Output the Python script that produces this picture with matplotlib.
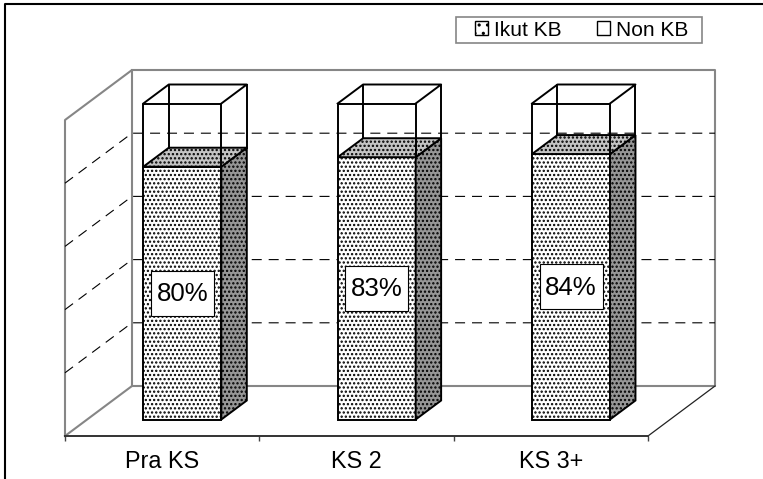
import matplotlib
matplotlib.use('Agg')
import matplotlib.pyplot as plt
from matplotlib.lines import Line2D
from matplotlib.patches import Patch, Polygon, Rectangle

plt.rcParams['font.family'] = ['Liberation Sans', 'DejaVu Sans']
plt.rcParams['hatch.linewidth'] = 1.1
plt.rcParams['lines.scale_dashes'] = False

categories = ['Pra KS', 'KS 2', 'KS 3+']
ikut_kb = [80, 83, 84]
non_kb = [20, 17, 16]
grid_values = [20, 40, 60, 80]
legend_labels = ['Ikut KB', 'Non KB']

W, H = 763, 479
fig = plt.figure(figsize=(W/100, H/100), dpi=100)
# axes = front edge of the floor, everything else is projected backwards from it
ax = fig.add_axes([65/W, (H-436)/H, 583/W, 316/H])
ax.set_xlim(0, 3)
ax.set_ylim(0, 100)
ax.patch.set_visible(False)

# oblique depth, in data units for depth = 1
DX = 67/(583/3)
DY = 50/3.16
GREY = '#868686'
BAR_W = 78/(583/3)
D_FRONT, D_BACK = 0.33, 0.71
BAR_SHIFT = -0.01


def pr(x, y, d):
	return (x + d*DX, y + d*DY)


def line(pts, **kw):
	xs, ys = zip(*pts)
	ax.add_line(Line2D(xs, ys, clip_on=False, **kw))


# walls
wall = dict(color=GREY, lw=1.5, zorder=1)
line([pr(0, 0, 0), pr(0, 100, 0), pr(0, 100, 1), pr(0, 0, 1), pr(0, 0, 0)], **wall)
line([pr(0, 100, 1), pr(3, 100, 1), pr(3, 0, 1), pr(0, 0, 1)], **wall)
line([pr(3, 0, 0), pr(3, 0, 1)], color='#222222', lw=0.9, zorder=1)

# dashed gridlines, back wall and side wall
for g in grid_values:
	line([pr(0, g, 0), pr(0, g, 1), pr(3, g, 1)], color='black', lw=0.8,
		linestyle=(0, (7.2, 5)), zorder=2)


def face(pts, fc):
	ax.add_patch(Polygon(pts, closed=True, fc=fc, ec='black', lw=1.4, hatch='....',
		clip_on=False, zorder=3))


for i, (v, n) in enumerate(zip(ikut_kb, non_kb)):
	x0 = i + 0.5 - BAR_W/2 + BAR_SHIFT
	x1 = x0 + BAR_W
	top = v + n
	# Ikut KB block
	face([pr(x0, 0, D_FRONT), pr(x1, 0, D_FRONT), pr(x1, v, D_FRONT), pr(x0, v, D_FRONT)], 'white')
	face([pr(x1, 0, D_FRONT), pr(x1, 0, D_BACK), pr(x1, v, D_BACK), pr(x1, v, D_FRONT)], '#969696')
	face([pr(x0, v, D_FRONT), pr(x1, v, D_FRONT), pr(x1, v, D_BACK), pr(x0, v, D_BACK)], '#c4c4c4')
	# Non KB wire box, see-through
	edge = dict(color='black', lw=1.4, zorder=4)
	line([pr(x0, v, D_FRONT), pr(x0, top, D_FRONT), pr(x1, top, D_FRONT), pr(x1, v, D_FRONT)], **edge)
	line([pr(x0, top, D_FRONT), pr(x0, top, D_BACK), pr(x1, top, D_BACK), pr(x1, top, D_FRONT)], **edge)
	line([pr(x0, top, D_BACK), pr(x0, v, D_BACK)], **edge)
	line([pr(x1, top, D_BACK), pr(x1, v, D_BACK)], **edge)
	# value label
	cx, cy = pr((x0+x1)/2, v/2, D_FRONT)
	bw, bh = 63/(583/3), 45/3.16
	ax.add_patch(Rectangle((cx-bw/2, cy-bh/2), bw, bh, fc='white', ec='black', lw=0.8,
		zorder=5, clip_on=False))
	ax.text(cx, cy-0.3, '%d%%' % v, ha='center', va='center', fontsize=18.6, zorder=6)

# front axis
for s in ['left', 'right', 'top']:
	ax.spines[s].set_visible(False)
ax.spines['bottom'].set_color('#333333')
ax.spines['bottom'].set_linewidth(1.4)
ax.set_yticks([])
ax.set_xticks(range(4), labels=[])
ax.tick_params(axis='x', which='major', length=3.5, width=1, color='#444444')
ax.set_xticks([i + 0.5 for i in range(3)], labels=categories, minor=True)
ax.tick_params(axis='x', which='minor', length=0, labelsize=16.8, pad=10)

# legend box drawn apart, the frame padding of ax.legend is the same on all sides
ax.add_patch(Rectangle((455.7/W, 1-43/H), 246.3/W, 26.3/H, fc='white', ec=GREY, lw=1.2,
	transform=fig.transFigure, clip_on=False, zorder=7))
handles = [Patch(fc='white', ec='black', lw=1, hatch='..'), Patch(fc='white', ec='black', lw=1)]
ax.legend(handles, legend_labels, ncol=2, fontsize=15, loc='center',
	bbox_to_anchor=(581.5/W, 1-30/H), bbox_transform=fig.transFigure, frameon=False,
	borderpad=0, labelspacing=0, handlelength=0.62, handleheight=0.62,
	handletextpad=0.3, columnspacing=1.68, borderaxespad=0).set_zorder(10)

# outer frame, open on the right and at the bottom
fig.add_artist(Line2D([5.3/W, 5.3/W, 1], [0, 1-4.3/H, 1-4.3/H], color='black', lw=1.5,
	transform=fig.transFigure))

fig.savefig('out.png', dpi=100)
